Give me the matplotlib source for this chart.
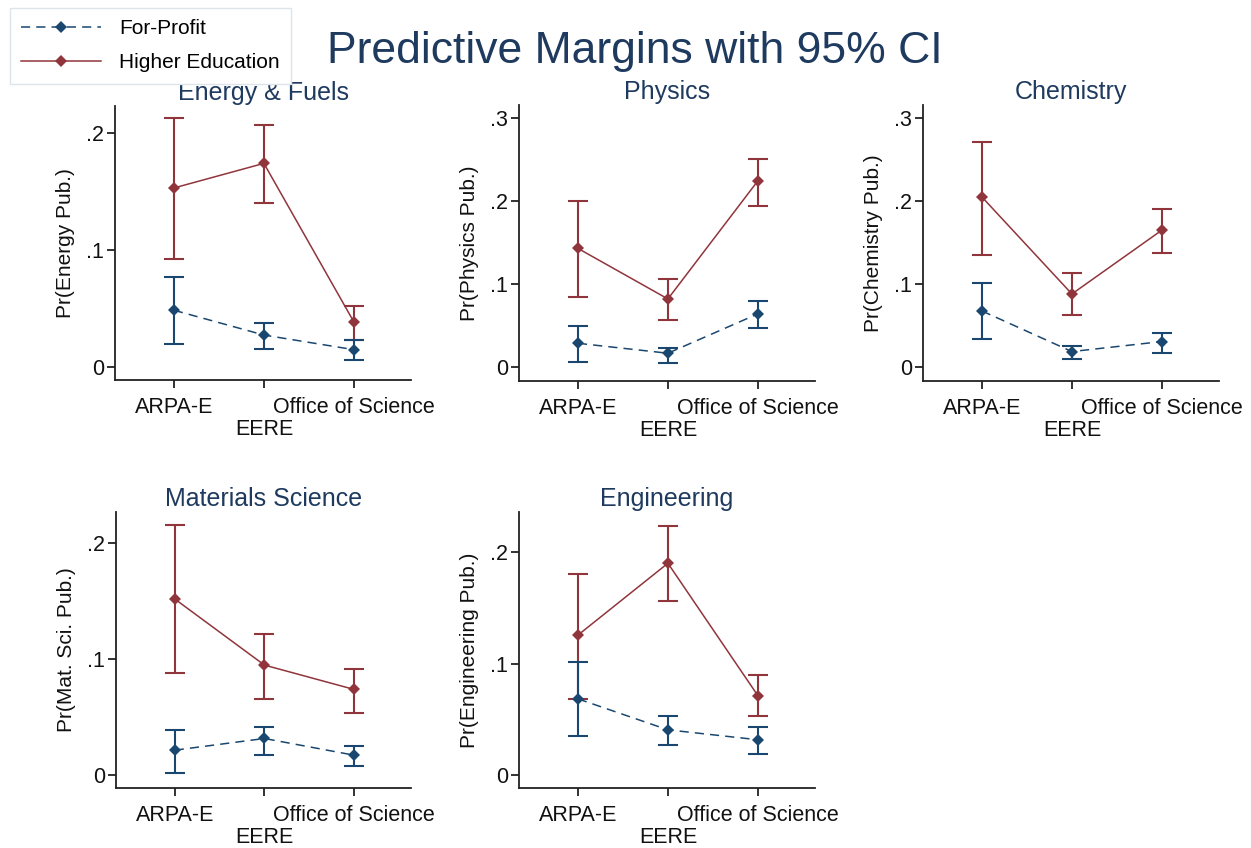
"""Predictive margins with 95% CI, five publication fields, two sectors."""
import matplotlib

matplotlib.use("Agg")
import matplotlib.pyplot as plt
from matplotlib.lines import Line2D

plt.rcParams["font.family"] = ["Liberation Sans", "DejaVu Sans"]

programs = ["ARPA-E", "EERE", "Office of Science"]
fields = ["Energy & Fuels", "Physics", "Chemistry", "Materials Science", "Engineering"]
ylabels = ["Pr(Energy Pub.)", "Pr(Physics Pub.)", "Pr(Chemistry Pub.)",
           "Pr(Mat. Sci. Pub.)", "Pr(Engineering Pub.)"]

# for-profit margins and CI bounds, one row per field
fp_mean = [[0.0486, 0.0274, 0.0149], [0.0285, 0.0165, 0.0640], [0.0675, 0.0185, 0.0306],
           [0.0216, 0.0317, 0.0173], [0.0683, 0.0405, 0.0316]]
fp_lo = [[0.0197, 0.0154, 0.0057], [0.0056, 0.0050, 0.0470], [0.0338, 0.0100, 0.0173],
         [0.0023, 0.0178, 0.0080], [0.0350, 0.0265, 0.0190]]
fp_hi = [[0.0766, 0.0380, 0.0230], [0.0490, 0.0230, 0.0790], [0.1010, 0.0250, 0.0414],
         [0.0394, 0.0420, 0.0250], [0.1010, 0.0530, 0.0426]]

# higher education margins and CI bounds
he_mean = [[0.153, 0.174, 0.0386], [0.143, 0.082, 0.2245], [0.205, 0.088, 0.165],
           [0.152, 0.095, 0.074], [0.1255, 0.190, 0.0712]]
he_lo = [[0.092, 0.140, 0.0234], [0.0847, 0.057, 0.1936], [0.1347, 0.063, 0.138],
         [0.0878, 0.066, 0.0535], [0.0683, 0.156, 0.0528]]
he_hi = [[0.213, 0.207, 0.0526], [0.200, 0.106, 0.251], [0.271, 0.113, 0.1906],
         [0.216, 0.1217, 0.092], [0.1806, 0.2238, 0.0897]]

yticks = [[0, 0.1, 0.2], [0, 0.1, 0.2, 0.3], [0, 0.1, 0.2, 0.3], [0, 0.1, 0.2], [0, 0.1, 0.2]]
ylims = [(-0.011, 0.223), (-0.017, 0.316), (-0.017, 0.316), (-0.011, 0.227), (-0.0117, 0.236)]

NAVY = "#1a476f"
MAROON = "#90353b"
TITLE = "#1e3a5f"
W, H = 1251, 848

# axes boxes in pixels: left, top, right, bottom
boxes = [(115, 106, 411, 380), (519, 105, 815, 381), (923, 105, 1219, 381),
         (116, 512, 411, 788), (519, 512, 815, 788)]

fig = plt.figure(figsize=(W / 100, H / 100), dpi=100)
fig.patch.set_facecolor("white")

x = [1, 2, 3]
for i, (l, t, r, b) in enumerate(boxes):
    ax = fig.add_axes([l / W, 1 - b / H, (r - l) / W, (b - t) / H])
    for mean, lo, hi, color, ls in [(he_mean[i], he_lo[i], he_hi[i], MAROON, "-"),
                                    (fp_mean[i], fp_lo[i], fp_hi[i], NAVY, (0, (6, 4)))]:
        yerr = [[m - a for m, a in zip(mean, lo)], [c - m for m, c in zip(mean, hi)]]
        ax.errorbar(x, mean, yerr=yerr, fmt="none", ecolor=color, elinewidth=1.5,
                    capsize=7, capthick=1.5)
        ax.plot(x, mean, color=color, lw=1.1, ls=ls, marker="D", ms=6.5,
                markeredgewidth=0)

    ax.set_xlim(0.345, 3.635)
    ax.set_ylim(*ylims[i])
    ax.set_yticks(yticks[i])
    ax.set_yticklabels(["0" if v == 0 else f"{v:.1f}".lstrip("0") for v in yticks[i]])
    ax.set_xticks(x)
    ax.set_xticklabels(programs)
    # stagger the middle label like Stata does
    ax.get_xticklabels()[1].set_y(-0.08)
    for s in ["top", "right"]:
        ax.spines[s].set_visible(False)
    for s in ["left", "bottom"]:
        ax.spines[s].set_color("#222222")
        ax.spines[s].set_linewidth(1.3)
    ax.tick_params(direction="out", length=6, width=1.3, color="#222222",
                   labelsize=15.5, labelcolor="#111111", pad=2)
    ax.tick_params(axis="x", pad=6)
    ax.set_ylabel(ylabels[i], fontsize=15, color="#111111", labelpad=8)
    ax.set_title(fields[i], fontsize=18, color=TITLE, pad=4)

fig.text(635 / W, 1 - 52 / H, "Predictive Margins with 95% CI", fontsize=32,
         color=TITLE, ha="center", va="center")

handles = [Line2D([], [], color=NAVY, lw=1.1, ls=(0, (6, 4)), marker="D", ms=6.5,
                  markeredgewidth=0),
           Line2D([], [], color=MAROON, lw=1.1, marker="D", ms=6.5, markeredgewidth=0)]
leg = fig.legend(handles, ["For-Profit", "Higher Education"], loc="upper left",
                 bbox_to_anchor=(10 / W, 1 - 8 / H), borderaxespad=0, fontsize=15,
                 handlelength=3.8, handletextpad=0.9, labelspacing=0.72, borderpad=0.55,
                 fancybox=False, edgecolor="#dde5ea", framealpha=1)
leg.get_frame().set_linewidth(1.0)

fig.savefig("out.png", dpi=100)
